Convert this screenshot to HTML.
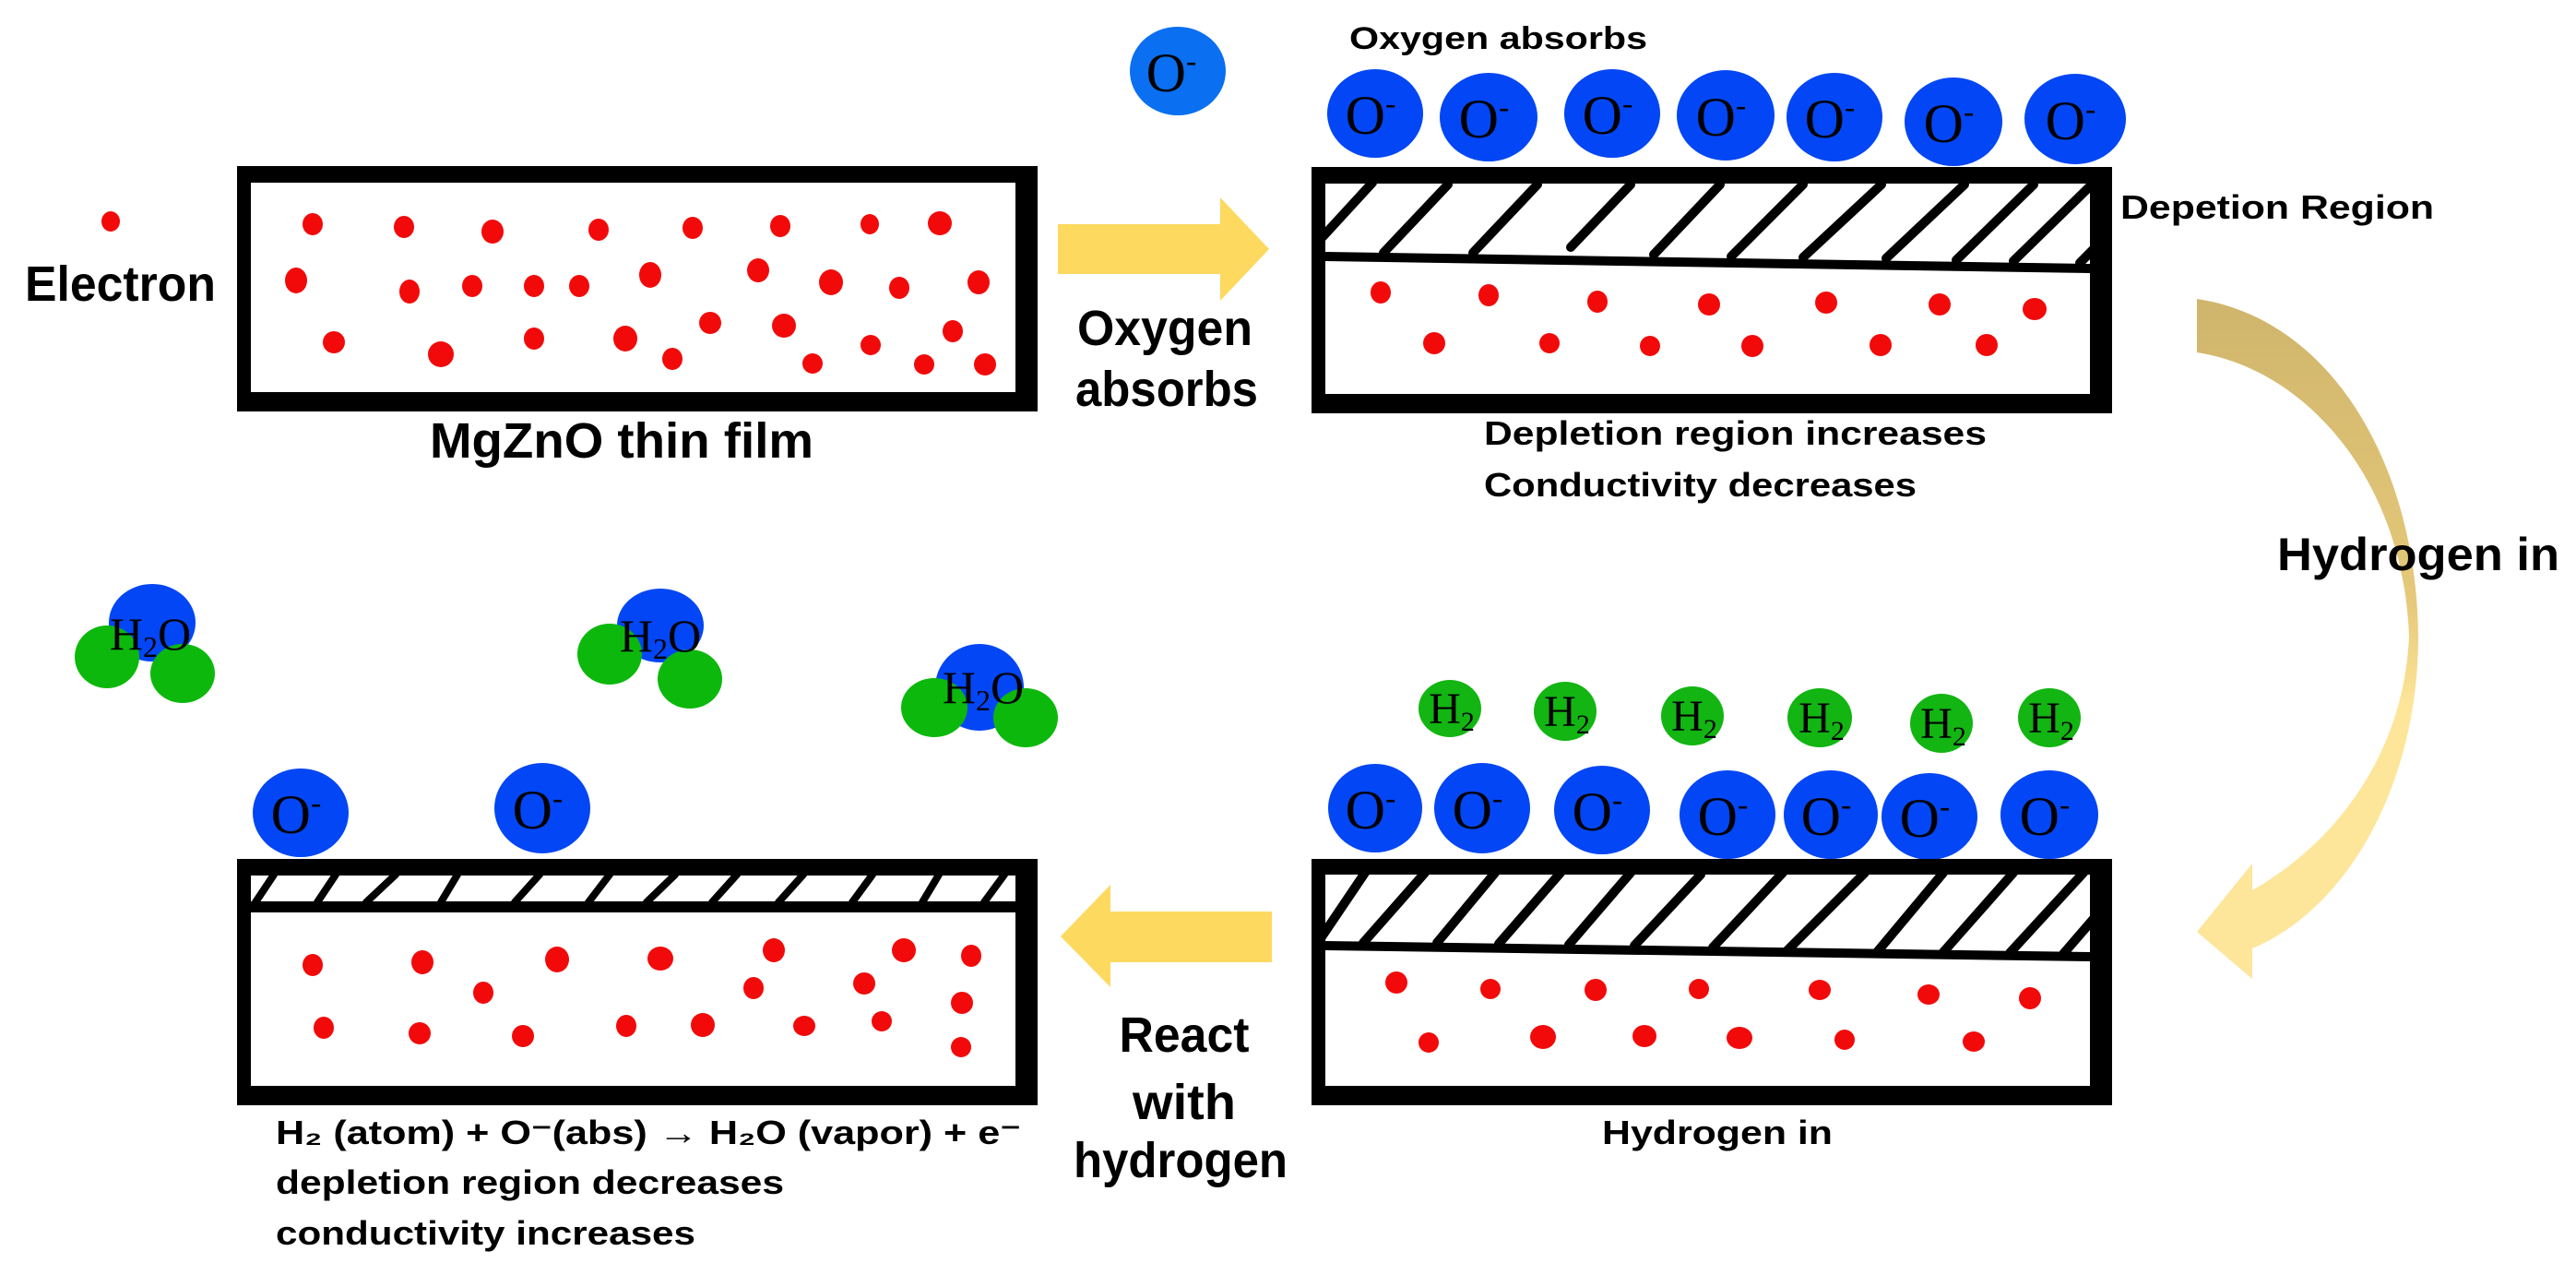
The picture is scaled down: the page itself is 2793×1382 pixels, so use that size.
<!DOCTYPE html>
<html><head><meta charset="utf-8"><style>
html,body{margin:0;padding:0;background:#fff}
svg{display:block}
.t{font-family:"Liberation Sans",sans-serif;font-weight:bold;fill:#000}
.s{font-family:"Liberation Serif",serif;fill:#000}
</style></head><body>
<svg width="2793" height="1382" viewBox="0 0 2793 1382" xmlns="http://www.w3.org/2000/svg">
<defs>
<linearGradient id="cg" x1="0" y1="0" x2="0" y2="1">
<stop offset="0" stop-color="#cfb56c"/><stop offset="0.45" stop-color="#e6c97a"/><stop offset="0.6" stop-color="#fde69a"/><stop offset="1" stop-color="#fde59a"/>
</linearGradient>
<clipPath id="h2"><rect x="1437" y="199" width="829" height="90"/></clipPath>
<clipPath id="h3"><rect x="272" y="949" width="829" height="34"/></clipPath>
<clipPath id="h4"><rect x="1437" y="948" width="829" height="86"/></clipPath>
</defs>

<!-- Box1 -->
<rect x="257" y="180" width="868" height="266" fill="#000"/>
<rect x="272" y="198" width="829" height="227" fill="#fff"/>
<g fill="#f20a0a">
<ellipse cx="120" cy="240" rx="10" ry="11"/>
<ellipse cx="339" cy="243" rx="11" ry="12"/><ellipse cx="438" cy="246" rx="11" ry="12"/><ellipse cx="534" cy="251" rx="12" ry="13"/><ellipse cx="649" cy="249" rx="11" ry="12"/><ellipse cx="751" cy="247" rx="11" ry="12"/><ellipse cx="846" cy="245" rx="11" ry="12"/><ellipse cx="943" cy="243" rx="10" ry="11"/><ellipse cx="1019" cy="242" rx="13" ry="13"/>
<ellipse cx="321" cy="304" rx="12" ry="14"/><ellipse cx="444" cy="316" rx="11" ry="13"/><ellipse cx="512" cy="310" rx="11" ry="12"/><ellipse cx="579" cy="310" rx="11" ry="12"/><ellipse cx="628" cy="310" rx="11" ry="12"/><ellipse cx="705" cy="298" rx="12" ry="14"/><ellipse cx="822" cy="293" rx="12" ry="13"/><ellipse cx="901" cy="306" rx="13" ry="14"/><ellipse cx="975" cy="312" rx="11" ry="12"/><ellipse cx="1061" cy="306" rx="12" ry="13"/>
<ellipse cx="362" cy="371" rx="12" ry="12"/><ellipse cx="478" cy="384" rx="14" ry="14"/><ellipse cx="579" cy="367" rx="11" ry="12"/><ellipse cx="678" cy="367" rx="13" ry="14"/><ellipse cx="729" cy="389" rx="11" ry="12"/><ellipse cx="770" cy="350" rx="12" ry="12"/><ellipse cx="850" cy="353" rx="13" ry="13"/><ellipse cx="881" cy="394" rx="11" ry="11"/><ellipse cx="944" cy="374" rx="11" ry="11"/><ellipse cx="1033" cy="359" rx="11" ry="12"/><ellipse cx="1002" cy="395" rx="11" ry="11"/><ellipse cx="1068" cy="395" rx="12" ry="12"/>
</g>
<text class="t" x="27" y="326" font-size="54" textLength="207" lengthAdjust="spacingAndGlyphs">Electron</text>
<text class="t" x="466" y="496" font-size="54" textLength="416" lengthAdjust="spacingAndGlyphs">MgZnO thin film</text>

<!-- arrow right -->
<polygon points="1147,243 1323,243 1323,214 1376,270 1323,326 1323,297 1147,297" fill="#fdd95f"/>
<text class="t" x="1263" y="374" font-size="54" text-anchor="middle" textLength="190" lengthAdjust="spacingAndGlyphs">Oxygen</text>
<text class="t" x="1265" y="440" font-size="54" text-anchor="middle" textLength="198" lengthAdjust="spacingAndGlyphs">absorbs</text>

<!-- lone O- -->
<ellipse cx="1277" cy="77" rx="52" ry="48" fill="#0a6ff0"/>
<text class="s" x="1270" y="99" font-size="60" text-anchor="middle">O<tspan font-size="34" dy="-22">-</tspan></text>

<!-- Box2 -->
<text class="t" x="1463" y="53" font-size="34" textLength="323" lengthAdjust="spacingAndGlyphs">Oxygen absorbs</text>
<g fill="#0346f5">
<ellipse cx="1491" cy="123" rx="52" ry="48"/><ellipse cx="1614" cy="127" rx="53" ry="48"/><ellipse cx="1748" cy="123" rx="52" ry="48"/><ellipse cx="1871" cy="125" rx="53" ry="49"/><ellipse cx="1989" cy="127" rx="52" ry="48"/><ellipse cx="2118" cy="132" rx="53" ry="48"/><ellipse cx="2250" cy="129" rx="55" ry="49"/>
</g>
<g class="s" font-size="60" text-anchor="middle">
<text x="1486" y="145">O<tspan font-size="34" dy="-22">-</tspan></text><text x="1609" y="149">O<tspan font-size="34" dy="-22">-</tspan></text><text x="1743" y="145">O<tspan font-size="34" dy="-22">-</tspan></text><text x="1866" y="147">O<tspan font-size="34" dy="-22">-</tspan></text><text x="1984" y="149">O<tspan font-size="34" dy="-22">-</tspan></text><text x="2113" y="154">O<tspan font-size="34" dy="-22">-</tspan></text><text x="2245" y="151">O<tspan font-size="34" dy="-22">-</tspan></text>
</g>
<rect x="1422" y="181" width="868" height="267" fill="#000"/>
<rect x="1437" y="199" width="829" height="228" fill="#fff"/>
<g clip-path="url(#h2)" stroke="#000" stroke-width="10" stroke-linecap="round" fill="none">
<line x1="1420" y1="272" x2="1488" y2="198"/><line x1="1500" y1="274" x2="1570" y2="200"/><line x1="1597" y1="274" x2="1667" y2="200"/><line x1="1703" y1="268" x2="1768" y2="200"/><line x1="1793" y1="276" x2="1865" y2="200"/><line x1="1877" y1="278" x2="1955" y2="200"/><line x1="1955" y1="279" x2="2040" y2="200"/><line x1="2045" y1="280" x2="2130" y2="200"/><line x1="2121" y1="282" x2="2205" y2="200"/><line x1="2183" y1="283" x2="2266" y2="202"/><line x1="2255" y1="285" x2="2290" y2="250"/>
</g>
<polyline points="1437,278 2266,291" stroke="#000" stroke-width="10" fill="none"/>
<g fill="#f20a0a">
<ellipse cx="1497" cy="317" rx="11" ry="12"/><ellipse cx="1614" cy="320" rx="11" ry="12"/><ellipse cx="1732" cy="327" rx="11" ry="12"/><ellipse cx="1853" cy="330" rx="12" ry="12"/><ellipse cx="1980" cy="328" rx="12" ry="12"/><ellipse cx="2103" cy="330" rx="12" ry="12"/><ellipse cx="2206" cy="335" rx="13" ry="12"/>
<ellipse cx="1555" cy="372" rx="12" ry="12"/><ellipse cx="1680" cy="372" rx="11" ry="11"/><ellipse cx="1789" cy="375" rx="11" ry="11"/><ellipse cx="1900" cy="375" rx="12" ry="12"/><ellipse cx="2039" cy="374" rx="12" ry="12"/><ellipse cx="2154" cy="374" rx="12" ry="12"/>
</g>
<text class="t" x="2299" y="237" font-size="36" textLength="340" lengthAdjust="spacingAndGlyphs">Depetion Region</text>
<text class="t" x="1609" y="482" font-size="36" textLength="545" lengthAdjust="spacingAndGlyphs">Depletion region increases</text>
<text class="t" x="1609" y="538" font-size="36" textLength="469" lengthAdjust="spacingAndGlyphs">Conductivity decreases</text>

<!-- curved arrow -->
<path d="M2382,324 C2525,345 2620,500 2622,690 C2622,850 2545,985 2442,1028 L2442,1061 L2382,1010 L2442,936 L2442,965 C2530,915 2606,820 2612,690 C2606,520 2500,400 2382,382 Z" fill="url(#cg)"/>
<text class="t" x="2469" y="618" font-size="50" textLength="306" lengthAdjust="spacingAndGlyphs">Hydrogen in</text>

<!-- Box4 -->
<g fill="#12b512">
<ellipse cx="1572" cy="768" rx="34" ry="31"/><ellipse cx="1697" cy="771" rx="34" ry="32"/><ellipse cx="1835" cy="776" rx="34" ry="32"/><ellipse cx="1973" cy="778" rx="35" ry="32"/><ellipse cx="2105" cy="784" rx="34" ry="32"/><ellipse cx="2222" cy="778" rx="34" ry="32"/>
</g>
<g class="s" font-size="48" text-anchor="middle">
<text x="1574" y="784">H<tspan font-size="30" dy="8">2</tspan></text><text x="1699" y="787">H<tspan font-size="30" dy="8">2</tspan></text><text x="1837" y="792">H<tspan font-size="30" dy="8">2</tspan></text><text x="1975" y="794">H<tspan font-size="30" dy="8">2</tspan></text><text x="2107" y="800">H<tspan font-size="30" dy="8">2</tspan></text><text x="2224" y="794">H<tspan font-size="30" dy="8">2</tspan></text>
</g>
<g fill="#0346f5">
<ellipse cx="1491" cy="876" rx="51" ry="48"/><ellipse cx="1607" cy="876" rx="52" ry="49"/><ellipse cx="1737" cy="878" rx="52" ry="48"/><ellipse cx="1873" cy="883" rx="52" ry="48"/><ellipse cx="1985" cy="883" rx="51" ry="48"/><ellipse cx="2092" cy="885" rx="52" ry="47"/><ellipse cx="2222" cy="883" rx="53" ry="48"/>
</g>
<g class="s" font-size="60" text-anchor="middle">
<text x="1486" y="898">O<tspan font-size="34" dy="-22">-</tspan></text><text x="1602" y="898">O<tspan font-size="34" dy="-22">-</tspan></text><text x="1732" y="900">O<tspan font-size="34" dy="-22">-</tspan></text><text x="1868" y="905">O<tspan font-size="34" dy="-22">-</tspan></text><text x="1980" y="905">O<tspan font-size="34" dy="-22">-</tspan></text><text x="2087" y="907">O<tspan font-size="34" dy="-22">-</tspan></text><text x="2217" y="905">O<tspan font-size="34" dy="-22">-</tspan></text>
</g>
<rect x="1422" y="931" width="868" height="267" fill="#000"/>
<rect x="1437" y="948" width="829" height="229" fill="#fff"/>
<g clip-path="url(#h4)" stroke="#000" stroke-width="10" stroke-linecap="round" fill="none">
<line x1="1430" y1="1020" x2="1480" y2="946"/><line x1="1478" y1="1022" x2="1545" y2="946"/><line x1="1558" y1="1022" x2="1621" y2="946"/><line x1="1625" y1="1023" x2="1692" y2="946"/><line x1="1701" y1="1024" x2="1768" y2="946"/><line x1="1772" y1="1025" x2="1844" y2="948"/><line x1="1857" y1="1027" x2="1933" y2="946"/><line x1="1938" y1="1030" x2="2022" y2="946"/><line x1="2036" y1="1031" x2="2107" y2="946"/><line x1="2107" y1="1032" x2="2183" y2="946"/><line x1="2179" y1="1033" x2="2259" y2="946"/><line x1="2237" y1="1034" x2="2275" y2="990"/>
</g>
<polyline points="1437,1025 2266,1037" stroke="#000" stroke-width="10" fill="none"/>
<g fill="#f20a0a">
<ellipse cx="1514" cy="1065" rx="12" ry="12"/><ellipse cx="1616" cy="1072" rx="11" ry="11"/><ellipse cx="1730" cy="1073" rx="12" ry="12"/><ellipse cx="1842" cy="1072" rx="11" ry="11"/><ellipse cx="1973" cy="1073" rx="12" ry="11"/><ellipse cx="2091" cy="1078" rx="12" ry="11"/><ellipse cx="2201" cy="1082" rx="12" ry="12"/>
<ellipse cx="1549" cy="1130" rx="11" ry="11"/><ellipse cx="1673" cy="1124" rx="14" ry="13"/><ellipse cx="1783" cy="1123" rx="13" ry="12"/><ellipse cx="1886" cy="1125" rx="14" ry="12"/><ellipse cx="2000" cy="1127" rx="11" ry="11"/><ellipse cx="2140" cy="1129" rx="12" ry="11"/>
</g>
<text class="t" x="1737" y="1240" font-size="36" textLength="250" lengthAdjust="spacingAndGlyphs">Hydrogen in</text>

<!-- arrow left -->
<polygon points="1379,988 1204,988 1204,959 1150,1015 1204,1070 1204,1043 1379,1043" fill="#fdd95f"/>
<text class="t" x="1284" y="1140" font-size="54" text-anchor="middle" textLength="141" lengthAdjust="spacingAndGlyphs">React</text>
<text class="t" x="1284" y="1213" font-size="54" text-anchor="middle" textLength="112" lengthAdjust="spacingAndGlyphs">with</text>
<text class="t" x="1280" y="1276" font-size="54" text-anchor="middle" textLength="232" lengthAdjust="spacingAndGlyphs">hydrogen</text>

<!-- H2O molecules -->
<g>
<ellipse cx="165" cy="675" rx="47" ry="42" fill="#0346f5"/>
<ellipse cx="116" cy="712" rx="35" ry="34" fill="#0cb80c"/>
<ellipse cx="198" cy="730" rx="35" ry="32" fill="#0cb80c"/>
<text class="s" x="163" y="704" font-size="50" text-anchor="middle">H<tspan font-size="32" dy="8">2</tspan><tspan dy="-8">O</tspan></text>
</g>
<g>
<ellipse cx="716" cy="678" rx="47" ry="40" fill="#0346f5"/>
<ellipse cx="661" cy="709" rx="35" ry="33" fill="#0cb80c"/>
<ellipse cx="748" cy="736" rx="35" ry="32" fill="#0cb80c"/>
<text class="s" x="716" y="706" font-size="50" text-anchor="middle">H<tspan font-size="32" dy="8">2</tspan><tspan dy="-8">O</tspan></text>
</g>
<g>
<ellipse cx="1062" cy="745" rx="48" ry="47" fill="#0346f5"/>
<ellipse cx="1013" cy="767" rx="36" ry="32" fill="#0cb80c"/>
<ellipse cx="1112" cy="778" rx="35" ry="32" fill="#0cb80c"/>
<text class="s" x="1066" y="762" font-size="50" text-anchor="middle">H<tspan font-size="32" dy="8">2</tspan><tspan dy="-8">O</tspan></text>
</g>

<!-- Box3 -->
<ellipse cx="326" cy="881" rx="52" ry="48" fill="#0346f5"/>
<ellipse cx="588" cy="876" rx="52" ry="49" fill="#0346f5"/>
<text class="s" x="321" y="903" font-size="60" text-anchor="middle">O<tspan font-size="34" dy="-22">-</tspan></text>
<text class="s" x="583" y="898" font-size="60" text-anchor="middle">O<tspan font-size="34" dy="-22">-</tspan></text>
<rect x="257" y="931" width="868" height="267" fill="#000"/>
<rect x="272" y="949" width="829" height="228" fill="#fff"/>
<g clip-path="url(#h3)" stroke="#000" stroke-width="8" stroke-linecap="round" fill="none">
<line x1="277" y1="978" x2="297" y2="948"/><line x1="344" y1="978" x2="364" y2="948"/><line x1="397" y1="978" x2="429" y2="948"/><line x1="478" y1="978" x2="496" y2="948"/><line x1="558" y1="978" x2="585" y2="948"/><line x1="638" y1="978" x2="661" y2="948"/><line x1="701" y1="978" x2="732" y2="948"/><line x1="772" y1="978" x2="799" y2="948"/><line x1="844" y1="978" x2="871" y2="948"/><line x1="924" y1="978" x2="946" y2="948"/><line x1="1000" y1="978" x2="1018" y2="948"/><line x1="1067" y1="978" x2="1089" y2="948"/>
</g>
<line x1="272" y1="983" x2="1101" y2="983" stroke="#000" stroke-width="12"/>
<g fill="#f20a0a">
<ellipse cx="339" cy="1046" rx="11" ry="12"/><ellipse cx="458" cy="1043" rx="12" ry="13"/><ellipse cx="604" cy="1040" rx="13" ry="14"/><ellipse cx="716" cy="1039" rx="14" ry="13"/><ellipse cx="839" cy="1030" rx="12" ry="13"/><ellipse cx="980" cy="1030" rx="13" ry="13"/><ellipse cx="1053" cy="1036" rx="11" ry="12"/>
<ellipse cx="524" cy="1076" rx="11" ry="12"/><ellipse cx="817" cy="1071" rx="11" ry="12"/><ellipse cx="937" cy="1066" rx="12" ry="12"/><ellipse cx="1043" cy="1087" rx="12" ry="12"/>
<ellipse cx="351" cy="1114" rx="11" ry="12"/><ellipse cx="455" cy="1120" rx="12" ry="12"/><ellipse cx="567" cy="1123" rx="12" ry="12"/><ellipse cx="679" cy="1112" rx="11" ry="12"/><ellipse cx="762" cy="1111" rx="13" ry="13"/><ellipse cx="872" cy="1112" rx="12" ry="11"/><ellipse cx="956" cy="1107" rx="11" ry="11"/><ellipse cx="1042" cy="1135" rx="11" ry="11"/>
</g>
<text class="t" x="299" y="1240" font-size="36" textLength="808" lengthAdjust="spacingAndGlyphs">H₂ (atom) + O⁻(abs) → H₂O (vapor) + e⁻</text>
<text class="t" x="299" y="1294" font-size="36" textLength="551" lengthAdjust="spacingAndGlyphs">depletion region decreases</text>
<text class="t" x="299" y="1349" font-size="36" textLength="455" lengthAdjust="spacingAndGlyphs">conductivity increases</text>
</svg>
</body></html>
